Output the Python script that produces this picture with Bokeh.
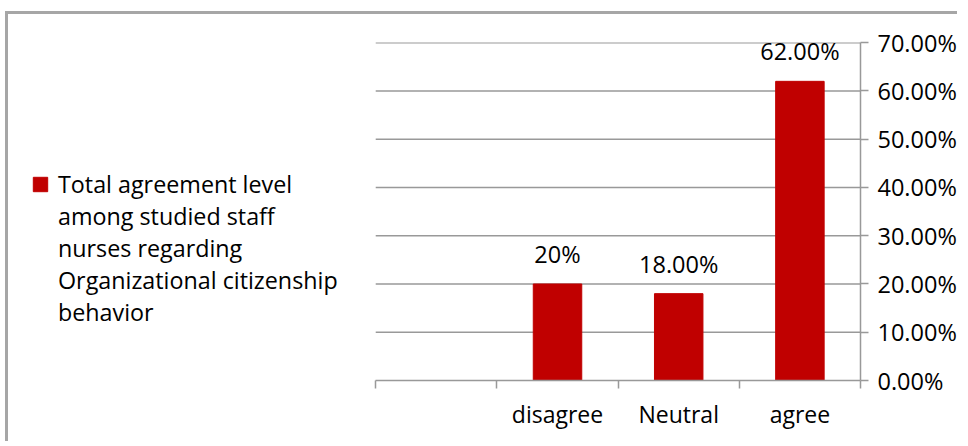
from bokeh.plotting import figure
from bokeh.models import (Range1d, LinearAxis, FixedTicker,
                          NumeralTickFormatter, Legend, LegendItem, ColumnDataSource, LabelSet)
from bokeh.core.properties import value
from bokeh.embed import file_html
from bokeh.resources import INLINE

# ---- data ----
slots = ["", "disagree", "Neutral", "agree"]          # first slot is empty in the original
categories = ["disagree", "Neutral", "agree"]
values = [0.20, 0.18, 0.62]
value_labels = ["20%", "18.00%", "62.00%"]
y_ticks = [0.0, 0.1, 0.2, 0.3, 0.4, 0.5, 0.6, 0.7]
series_lines = ["Total agreement level", "among studied staff", "nurses regarding",
                "Organizational citizenship", "behavior"]

FONT = "Open Sans"
GRAY = "#999999"
RED = "#C00000"
LEGEND_ROOM = 3.03   # extra slot-widths of room on the left for the legend

# slot positions derived from the category order
n = len(slots)
centers = [i + 0.5 for i in range(n)]
bounds = [float(i) for i in range(n + 1)]
bar_x = [slots.index(c) + 0.5 for c in categories]

p = figure(width=952, height=430,
           x_range=Range1d(-LEGEND_ROOM, n),
           y_range=Range1d(0, y_ticks[-1] + 0.0005),
           output_backend="svg", toolbar_location=None,
           x_axis_location=None, y_axis_location=None,
           min_border_left=0, min_border_right=100,
           min_border_top=28, min_border_bottom=64)
p.outline_line_color = None
p.background_fill_color = "white"
p.border_fill_color = "white"
p.styles = {"border-top": "3px solid #a6a6a6", "border-left": "3px solid #a6a6a6",
            "margin-left": "5px", "margin-top": "11px"}

# grid lines only across the category slots
p.xgrid.visible = False
p.ygrid.visible = False
p.segment(x0=[0] * (len(y_ticks) - 1), x1=[n] * (len(y_ticks) - 1),
          y0=y_ticks[1:], y1=y_ticks[1:], line_color=GRAY, line_width=1.5)

# right y axis
yax = LinearAxis(ticker=FixedTicker(ticks=y_ticks),
                 formatter=NumeralTickFormatter(format="0.00%"))
yax.axis_line_color = GRAY
yax.axis_line_width = 1.5
yax.major_tick_line_color = GRAY
yax.major_tick_line_width = 1.5
yax.major_tick_in = 0
yax.major_tick_out = 8
yax.minor_tick_line_color = None
yax.major_label_standoff = 9
yax.major_label_text_font = FONT
yax.major_label_text_font_size = "23.5px"
yax.major_label_text_color = "black"
p.add_layout(yax, "right")

# x axis: labels at slot centres, tick marks (minor) at slot boundaries
xax = LinearAxis(ticker=FixedTicker(ticks=centers, minor_ticks=bounds), bounds=(0, n))
xax.major_label_overrides = {c: s for c, s in zip(centers, slots)}
xax.axis_line_color = GRAY
xax.axis_line_width = 1.5
xax.major_tick_line_color = None
xax.major_tick_in = 0
xax.major_tick_out = 0
xax.minor_tick_line_color = GRAY
xax.minor_tick_line_width = 1.5
xax.minor_tick_in = 0
xax.minor_tick_out = 8
xax.major_label_standoff = 9
xax.major_label_text_font = FONT
xax.major_label_text_font_size = "23px"
xax.major_label_text_color = "black"
p.add_layout(xax, "below")

src = ColumnDataSource(dict(x=bar_x, val=values, lab=value_labels))
bars = p.vbar(x="x", top="val", width=0.4, source=src,
              fill_color=RED, line_color=RED)

labels = LabelSet(x="x", y="val", text="lab", source=src,
                  text_align="center", text_baseline="bottom", y_offset=14,
                  text_font=value(FONT), text_font_size="23.5px", text_color="black")
p.add_layout(labels)

# legend: the series name wrapped over several lines, swatch on the first line
blank = p.vbar(x=[], top=[], width=0.4, fill_alpha=0, line_alpha=0)
items = [LegendItem(label=series_lines[0], renderers=[bars])]
items += [LegendItem(label=t, renderers=[blank]) for t in series_lines[1:]]
legend = Legend(items=items, location=(23, 52))
legend.label_text_font = FONT
legend.label_text_font_size = "23.3px"
legend.label_text_color = "black"
legend.label_height = 32
legend.spacing = 0
legend.label_standoff = 9
legend.glyph_width = 18
legend.glyph_height = 18
legend.border_line_color = None
legend.background_fill_alpha = 0
legend.padding = 0
legend.margin = 0
p.add_layout(legend, "center")

open("out.html", "w").write(file_html(p, INLINE))
